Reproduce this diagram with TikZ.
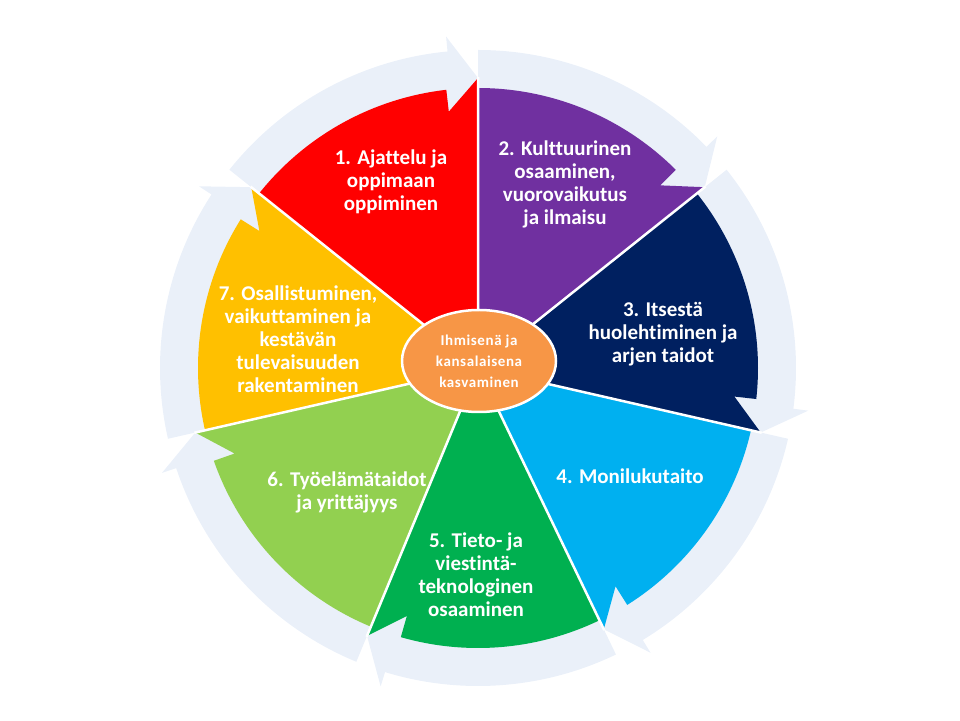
\documentclass[tikz,border=0pt]{standalone}
\usepackage{fontspec}
\setmainfont{Carlito}[Ligatures=NoCommon]
\usetikzlibrary{shapes.geometric}
\definecolor{ringblue}{HTML}{EAF0F9}
\definecolor{segred}{HTML}{FF0000}
\definecolor{segpurple}{HTML}{7030A0}
\definecolor{segnavy}{HTML}{002060}
\definecolor{segblue}{HTML}{00B0F0}
\definecolor{seggreen}{HTML}{00B050}
\definecolor{seglime}{HTML}{92D050}
\definecolor{segyellow}{HTML}{FFC000}
\definecolor{coreorange}{HTML}{F79646}
\begin{document}
\begin{tikzpicture}[x=1pt, y=1pt,
  ring/.style={fill=ringblue},
  gap/.style={draw=white, line width=2.5pt},
  core/.style={ellipse, fill=coreorange, draw=white, line width=2.5pt, minimum width=154pt, minimum height=102pt, inner sep=0pt, align=center, text=white, font=\bfseries\fontsize{15}{21}\selectfont\addfontfeatures{LetterSpace=4}},
  lbl/.style={text=white, align=center, font=\bfseries\fontsize{21}{23}\selectfont}]
  \useasboundingbox (0,0) rectangle (960,720);

  \begin{scope}[shift={(478,352)}]
  % light blue ring of arrows
  \fill[ring] (141.43:240pt) -- (141.43:318pt) arc[start angle=141.43, end angle=95.5, radius=318pt] -- (95.5:333pt) -- (90:290pt) -- (90:240pt) arc[start angle=90, end angle=141.43, radius=240pt] -- cycle;
  \fill[ring] (90:240pt) -- (90:318pt) arc[start angle=90, end angle=44.07, radius=318pt] -- (44.07:333pt) -- (38.57:290pt) -- (38.57:240pt) arc[start angle=38.57, end angle=90, radius=240pt] -- cycle;
  \fill[ring] (38.57:240pt) -- (38.57:318pt) arc[start angle=38.57, end angle=-7.36, radius=318pt] -- (-7.36:333pt) -- (-12.86:290pt) -- (-12.86:240pt) arc[start angle=-12.86, end angle=38.57, radius=240pt] -- cycle;
  \fill[ring] (-12.86:240pt) -- (-12.86:318pt) arc[start angle=-12.86, end angle=-58.79, radius=318pt] -- (-58.79:333pt) -- (-64.29:290pt) -- (-64.29:240pt) arc[start angle=-64.29, end angle=-12.86, radius=240pt] -- cycle;
  \fill[ring] (-64.29:240pt) -- (-64.29:318pt) arc[start angle=-64.29, end angle=-107, radius=318pt] -- (-107:333pt) -- (-112.5:290pt) -- (-112.5:240pt) arc[start angle=-112.5, end angle=-64.29, radius=240pt] -- cycle;
  \fill[ring] (-112.5:240pt) -- (-112.5:318pt) arc[start angle=-112.5, end angle=-161.64, radius=318pt] -- (-161.64:333pt) -- (-167.14:290pt) -- (-167.14:240pt) arc[start angle=-167.14, end angle=-112.5, radius=240pt] -- cycle;
  \fill[ring] (-167.14:240pt) -- (-167.14:318pt) arc[start angle=-167.14, end angle=-213.07, radius=318pt] -- (-213.07:333pt) -- (-218.57:290pt) -- (-218.57:240pt) arc[start angle=-218.57, end angle=-167.14, radius=240pt] -- cycle;

  % coloured arrow segments
  \fill[segred]    (0,0) -- (141.43:280pt) arc[start angle=141.43, end angle=96.5, radius=280pt] -- (96.5:258pt) -- (90:290pt) -- cycle;
  \fill[segpurple] (0,0) -- (90:280pt) arc[start angle=90, end angle=45.07, radius=280pt] -- (45.07:258pt) -- (38.57:290pt) -- cycle;
  \fill[segnavy]   (0,0) -- (38.57:280pt) arc[start angle=38.57, end angle=-6.36, radius=280pt] -- (-6.36:258pt) -- (-12.86:290pt) -- cycle;
  \fill[segblue]   (0,0) -- (-12.86:280pt) arc[start angle=-12.86, end angle=-57.79, radius=280pt] -- (-57.79:258pt) -- (-64.29:290pt) -- cycle;
  \fill[seggreen]  (0,0) -- (-64.29:280pt) arc[start angle=-64.29, end angle=-106, radius=280pt] -- (-106:258pt) -- (-112.5:290pt) -- cycle;
  \fill[seglime]   (0,0) -- (-112.5:280pt) arc[start angle=-112.5, end angle=-160.64, radius=280pt] -- (-160.64:258pt) -- (-167.14:290pt) -- cycle;
  \fill[segyellow] (0,0) -- (-167.14:280pt) arc[start angle=-167.14, end angle=-212.07, radius=280pt] -- (-212.07:258pt) -- (-218.57:290pt) -- cycle;

  % white gaps between segments
  \draw[gap] (0,0) -- (90:291pt)
             (0,0) -- (38.57:291pt)
             (0,0) -- (-12.86:291pt)
             (0,0) -- (-64.29:291pt)
             (0,0) -- (-112.5:291pt)
             (0,0) -- (-167.14:291pt)
             (0,0) -- (141.43:291pt);
  \end{scope}

  \node[core] (core) at (479,359) {Ihmisenä ja\\kansalaisena\\kasvaminen};

  \node[lbl] (t1) at (391,538) {1. Ajattelu ja\\oppimaan\\oppiminen};
  \node[lbl] (t2) at (565,536) {2. Kulttuurinen\\osaaminen,\\vuorovaikutus\\ja ilmaisu};
  \node[lbl] (t3) at (663,386) {3. Itsestä\\huolehtiminen ja\\arjen taidot};
  \node[lbl] (t4) at (630,244) {4. Monilukutaito};
  \node[lbl] (t5) at (476,145) {5. Tieto- ja\\viestintä-\\teknologinen\\osaaminen};
  \node[lbl] (t6) at (347,228) {6. Työelämätaidot\\ja yrittäjyys};
  \node[lbl] (t7) at (298,381) {7. Osallistuminen,\\vaikuttaminen ja\\kestävän\\tulevaisuuden\\rakentaminen};
\end{tikzpicture}
\end{document}
